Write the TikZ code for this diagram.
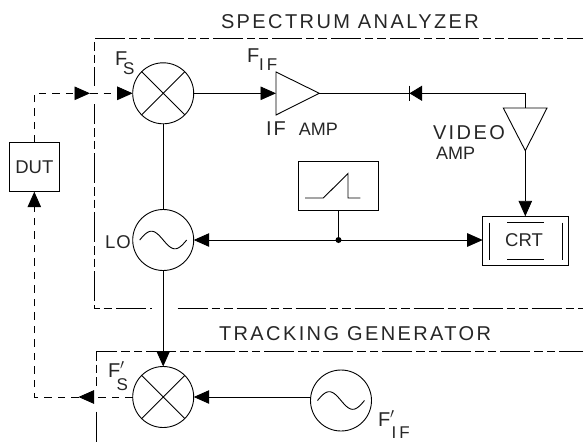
\documentclass[tikz,border=0pt]{standalone}
\usepackage{fontspec}
\usepackage{tikz}
\usetikzlibrary{arrows.meta, positioning, calc}
\newfontfamily\labelfont[LetterSpace=12]{Liberation Sans}
\newfontfamily\tightfont{Liberation Sans}
\newcommand{\subtext}[2]{\raisebox{-#1pt}{\fontsize{17}{17}\selectfont #2}}
\newcommand{\sinewave}[1]{\draw[shift={(#1.center)},domain=-1:1,samples=41,smooth] plot ({\x*23.5},{8.8*sin(\x*180)});}
\newcommand{\crossmark}[1]{\draw (#1.45) -- (#1.225) (#1.135) -- (#1.315);}

\begin{document}
\begin{tikzpicture}[
  x=1pt, y=-1pt,
  line width=0.9pt,
  font=\labelfont\fontsize{20}{20}\selectfont,
  txt/.style={inner sep=0pt, outer sep=0pt, text=black!85, anchor=base west},
  tight/.style={inner sep=0pt, outer sep=0pt, text=black!85, font=\tightfont\fontsize{18.5}{18.5}\selectfont},
  mixer/.style={draw, circle, minimum size=61pt, inner sep=0pt, outer sep=0pt},
  box/.style={draw, inner sep=0pt, outer sep=0pt},
  arr/.style={-{Triangle[length=15.5pt, width=13.5pt]}},
  diodearr/.style={-{Triangle[length=12.5pt, width=15pt]}},
  testpath/.style={dash pattern=on 7.5pt off 6pt},
  border/.style={dash pattern=on 30pt off 4pt on 8.5pt off 4pt on 8.5pt off 4pt},
  node distance=5mm and 10mm,
]
\useasboundingbox (0,0) rectangle (587,442);

% main blocks
\node[mixer] (mixs) at (163.2,93.3) {};
\node[mixer, below=146.7pt of mixs.center, anchor=center] (lo) {};
\node[mixer, below=157pt of lo.center, anchor=center] (mixt) {};
\node[mixer] (src) at (341,400.5) {};
\node[box, tight, minimum width=50pt, minimum height=49pt] (dut) at (34.3,167.2) {DUT};
\node[box, minimum width=80.4pt, minimum height=49pt] (ramp) at (338.5,185.5) {};
\node[box, minimum width=86pt, minimum height=49pt] (crt) at (525.7,240.8) {};
\node[tight] (crtname) at (524,240.5) {CRT};
\crossmark{mixs}
\crossmark{mixt}
\sinewave{lo}
\sinewave{src}

% amplifiers and detector
\coordinate (ampin) at (276,93.3);
\coordinate (ampout) at (319.3,93.3);
\coordinate (vidin) at (525.3,108);
\coordinate (vidout) at (525.3,150.7);
\coordinate (diode) at (409.5,93.3);
\draw (276,72) -- (ampout) -- (276,115) -- cycle;
\draw (503.3,108) -- (547,108) -- (vidout) -- cycle;
\draw (diode |- 0,85.7) -- (diode |- 0,101);

% ramp and screen
\draw (305,198) -- (323.3,198) -- (348,173.5) -- (348,198) -- (360.3,198);
\draw (489,222.7) -- (489,260) (562.3,222.7) -- (562.3,260);
\draw (507,222.3) -- (544.3,222.3) (507,259.3) -- (544.3,259.3);

% signal path
\draw[arr] (mixs.east) -- (ampin);
\draw (ampout) -- (diode);
\draw[diodearr] (vidin |- ampout) -- (diode);
\draw (vidin |- ampout) -- (vidin);
\draw[arr] (vidout) -- (crt.north -| vidout);
\draw (mixs.south) -- (lo.north);
\coordinate (junction) at (ramp.south |- lo.east);
\draw (ramp.south) -- (junction);
\fill (junction) circle (3pt);
\draw[arr] (junction) -- (lo.east);
\draw[arr] (junction) -- (crt.west |- junction);
\draw[arr] (lo.south) -- (mixt.north);
\draw[arr] (src.west |- 0,397) -- (mixt.east |- 0,397);

% tracking loop through the device
\coordinate (tipin) at (90,93.3);
\coordinate (tipout) at (78.5,397);
\draw[testpath, arr] (dut.north) |- (tipin);
\draw[testpath, arr] (tipin) -- (mixs.west);
\draw[testpath, arr] (mixt.west |- tipout) -- (tipout);
\draw[testpath, arr] (tipout) -| (dut.south);

% dashed borders
\draw[border, dash phase=13.7pt] (583,38) -- (94.7,38) -- (94.7,86);
\draw[border, dash phase=10pt] (94.7,104) -- (94.7,308.7) -- (151.7,308.7);
\draw[border] (177.7,308.7) -- (583,308.7);
\draw[border, dash phase=6pt] (583,351.7) -- (96,351.7) -- (96,385.7);
\draw[border] (96,411.7) -- (96,442);

% labels
\node[txt] (sa) at (221,28) {SPECTRUM ANALYZER};
\node[txt] (tg) at (219,340) {TRACKING GENERATOR};
\node[txt] (fs) at (115,65) {F\kern-4pt\subtext{9}{S}};
\node[txt] (fif) at (247,62) {F\kern0pt\subtext{8}{I\kern3pt F}};
\node[txt] (ifamp) at (266,135) {I\kern2pt F\kern13pt{\tightfont\fontsize{18}{18}\selectfont AMP}};
\node[txt] (video) at (433,139) {VIDEO};
\node[txt] (vamp) at (436,159) {\tightfont\fontsize{18}{18}\selectfont AMP};
\node[txt] (lolabel) at (105,248) {\tightfont\fontsize{18.5}{18.5}\selectfont L\kern1pt O};
\node[txt] (fst) at (108,377) {F$'$\kern-8pt\subtext{13}{S}};
\node[txt] (fift) at (378,426) {F$'$\kern-3pt\subtext{12}{I\kern3pt F}};
\end{tikzpicture}
\end{document}
